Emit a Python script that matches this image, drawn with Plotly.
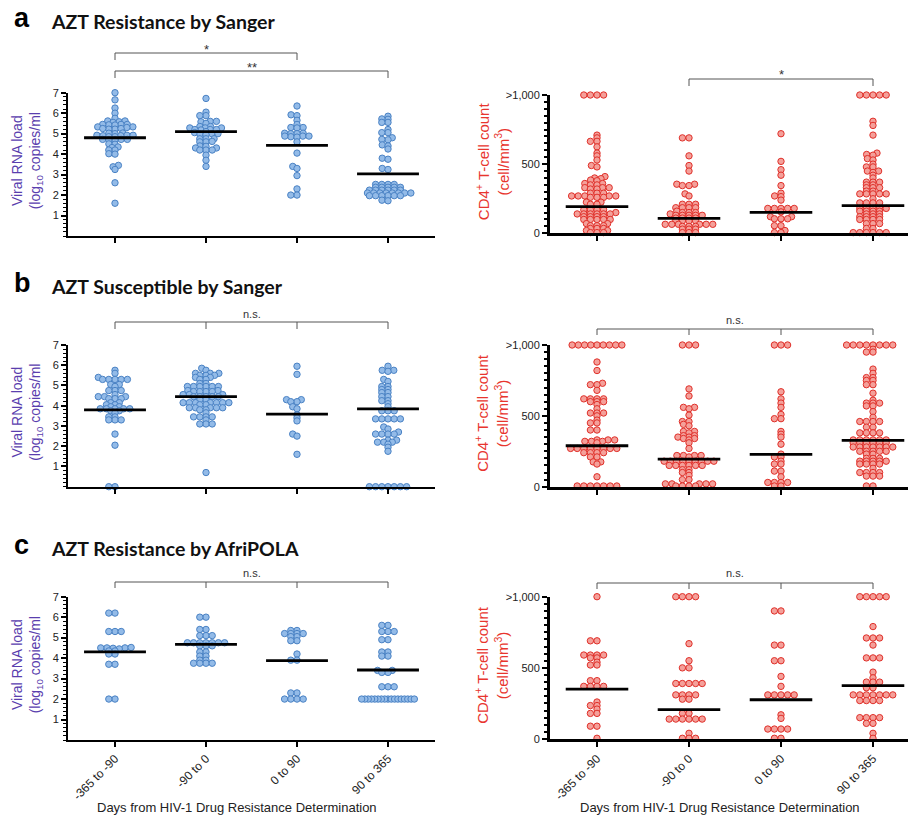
import numpy as np
import plotly.graph_objects as go

# ---------------- data ----------------
CATEGORIES = ["-365 to -90", "-90 to 0", "0 to 90", "90 to 365"]

def rep(v, n):
    return [v] * n

# Panel a, viral load (log10 copies/ml)
A_VL_1 = [7.0, 6.65, 6.25, 6.0, 5.75, 5.62, 5.58, 5.55, 5.62, 5.45, 5.45, 5.43, 5.42, 5.45, 5.33, 5.33, 5.3,
          5.22, 5.25, 5.22, 5.25, 5.03, 5.0, 5.02, 4.92, 4.92, 4.9, 4.9, 4.92, 4.85, 4.85, 4.72, 4.72, 4.7,
          4.7, 4.72, 4.5, 4.48, 4.35, 4.32, 4.2, 4.2, 4.02, 4.0, 3.45, 3.38, 3.25, 2.6, 1.6]
A_VL_2 = [6.72, 6.05, 5.88, 5.88, 5.6, 5.6, 5.58, 5.5, 5.35, 5.35, 5.28, 5.28, 5.28, 5.2, 5.2, 5.18, 5.2,
          5.1, 5.05, 5.0, 5.0, 4.98, 4.95, 4.75, 4.75, 4.75, 4.6, 4.6, 4.62, 4.4, 4.38, 4.3, 4.3, 4.2, 4.2,
          4.2, 3.95, 3.7, 3.4]
A_VL_3 = [6.35, 5.92, 5.88, 5.65, 5.45, 5.3, 5.3, 5.28, 5.02, 5.0, 5.0, 5.02, 4.88, 4.88, 4.85, 4.88, 4.83,
          4.6, 4.05, 3.4, 3.3, 2.95, 2.3, 2.0, 2.0]
A_VL_4 = ([5.85, 5.7, 5.72, 5.55, 5.55, 5.2, 5.05, 5.05, 4.8, 4.7, 4.72, 4.45, 4.4, 4.25, 3.8, 3.75, 3.3, 3.25]
          + rep(2.52, 4) + rep(2.38, 5) + rep(2.24, 6) + rep(2.1, 8) + rep(1.97, 6) + [1.75, 1.72])
A_VL_MED = [4.8, 5.1, 4.43, 3.03]

# Panel a, CD4 count (cells/mm3; >1,000 shown at 1,000)
A_CD4_1 = (rep(1000, 4) + [710, 690, 665, 665, 625, 580, 560, 530, 490, 480, 410, 400, 395, 385, 380, 360, 360,
           350, 350, 330, 330, 330, 320, 320, 290, 290, 290] + rep(270, 5) + rep(260, 3) + [225, 225, 210, 210]
           + rep(170, 4) + [150] + rep(140, 6) + rep(120, 4) + rep(100, 5) + rep(70, 2) + rep(55, 3)
           + rep(35, 3) + rep(20, 2) + rep(5, 3))
A_CD4_2 = ([690, 690, 560, 490, 450, 355, 355, 345, 345, 285, 270, 210, 210, 210] + rep(185, 4) + [160]
           + rep(150, 3) + [140] + rep(130, 5) + rep(110, 4) + rep(90, 4) + rep(65, 6) + rep(50, 3)
           + rep(30, 3) + rep(5, 3))
A_CD4_3 = [1010, 720, 520, 460, 420, 345, 290, 270, 265, 240, 180, 180, 180, 180, 180, 155, 120, 120, 105,
           105, 105, 55, 55, 20, 5, 5]
A_CD4_4 = (rep(1000, 5) + [810, 780, 710, 580, 570, 565, 540, 530, 500, 480, 480, 450, 450, 440, 420, 400]
           + rep(370, 3) + rep(350, 2) + rep(330, 3) + rep(305, 2) + rep(285, 5) + [250] + rep(220, 4)
           + rep(180, 5) + rep(160, 4) + rep(140, 3) + rep(120, 4) + rep(100, 4) + rep(70, 3) + rep(35, 2)
           + rep(5, 6))
A_CD4_MED = [193, 108, 152, 200]

# Panel b, viral load
B_VL_1 = [5.75, 5.6, 5.4, 5.3, 5.3, 5.3, 5.3, 5.3, 5.05, 5.05, 4.95, 4.75, 4.75, 4.75, 4.55, 4.45, 4.45,
          4.45, 4.35, 4.35, 4.35, 4.15, 4.15, 4.05, 4.05, 3.95, 3.95, 3.85, 3.85, 3.85, 3.85, 3.85, 3.75,
          3.75, 3.65, 3.45, 3.45, 3.3, 3.3, 3.3, 2.6, 2.05, 0.0, 0.0]
B_VL_2 = ([5.85, 5.75, 5.6, 5.6, 5.6, 5.5, 5.5, 5.5, 5.4, 5.4, 5.3, 5.3, 5.1, 5.1] + rep(4.95, 6)
          + [4.75, 4.75] + rep(4.7, 4) + rep(4.55, 3) + rep(4.45, 5) + [4.3, 4.3] + rep(4.15, 7)
          + [4.05, 4.05] + rep(3.9, 5) + [3.8, 3.8, 3.65] + rep(3.45, 4) + [3.3] + rep(3.1, 3) + [0.7])
B_VL_3 = [5.95, 5.55, 4.3, 4.3, 4.2, 4.2, 3.95, 3.85, 3.55, 3.4, 3.25, 2.6, 2.5, 1.6]
B_VL_4 = ([5.95, 5.75, 5.75, 5.7, 5.3, 5.2, 4.95, 4.95, 4.8, 4.8, 4.65, 4.65, 4.45, 4.45, 4.25, 4.25, 4.1,
          3.95, 3.75, 3.75, 3.75] + rep(3.35, 5) + [2.95, 2.85, 2.7] + rep(2.6, 4) + [2.3, 2.3]
          + rep(2.2, 3) + [2.1, 1.95, 1.75] + rep(0.0, 7))
B_VL_MED = [3.8, 4.45, 3.59, 3.84]

# Panel b, CD4 count
B_CD4_1 = (rep(1000, 9) + [880, 820, 730, 720, 720, 680] + rep(620, 4) + rep(600, 3) + [580, 550]
           + rep(520, 3) + [500, 470, 450, 450, 400, 400] + rep(330, 3) + rep(320, 3) + [310]
           + rep(270, 8) + rep(240, 4) + [210, 210, 175, 175, 160, 70] + rep(5, 7))
B_CD4_2 = (rep(1000, 3) + [690, 640, 560, 560, 550, 505, 460, 460, 440, 430, 390, 390, 380, 360, 360, 350,
           350, 340, 340, 330, 310, 270] + rep(220, 4) + [210] + rep(180, 9) + rep(150, 6) + [120, 120, 100,
           100, 80, 50, 50] + rep(20, 5) + rep(5, 4))
B_CD4_3 = (rep(1000, 3) + [670, 620, 590, 560, 510, 480, 480, 390, 370, 350, 300, 230, 210, 210, 180, 160,
           160, 110, 110, 70] + rep(30, 4) + [5, 5])
B_CD4_4 = (rep(1000, 8) + [970, 950, 950, 830, 800, 770, 770, 750, 750, 720, 720, 660, 610] + rep(590, 3)
           + [570, 570, 530, 490] + rep(460, 4) + [420, 420] + rep(380, 4) + rep(330, 6) + rep(310, 6)
           + rep(280, 7) + rep(250, 5) + [230, 230] + rep(200, 3) + rep(180, 5) + rep(160, 4) + [130]
           + rep(100, 4) + rep(75, 3) + [5, 5])
B_CD4_MED = [289, 195, 228, 327]

# Panel c, viral load
C_VL_1 = [6.2, 6.2, 5.3, 5.3, 5.3, 4.5, 4.5, 4.48, 4.45, 4.5, 4.52, 4.35, 4.35, 4.2, 4.2, 3.7, 3.7, 2.0, 2.0]
C_VL_2 = ([6.0, 6.0, 5.4, 5.4, 5.1, 5.1, 5.1] + rep(4.75, 7) + rep(4.6, 3) + [4.3, 4.3, 4.1, 4.1, 3.9, 3.9]
          + rep(3.75, 4))
C_VL_3 = [5.35, 5.35, 5.2, 5.2, 5.2, 5.2, 5.05, 5.05, 4.85, 4.85, 4.2, 3.9, 3.9, 2.3, 2.3, 2.0, 2.0, 2.0, 2.0]
C_VL_4 = ([5.6, 5.6, 5.3, 5.3, 5.3, 4.9, 4.9, 4.3, 4.3, 4.1, 4.1, 3.4, 3.4, 3.3, 3.3, 2.6, 2.6, 2.6]
          + rep(2.0, 17))
C_VL_MED = [4.3, 4.67, 3.88, 3.42]

# Panel c, CD4 count
C_CD4_1 = ([1000, 690, 690] + rep(590, 4) + [570, 570, 540, 520, 520, 410, 410] + rep(370, 4)
           + [260, 235, 235, 210, 180, 180, 90, 90, 5])
C_CD4_2 = (rep(1000, 4) + [670, 550, 500, 500] + rep(390, 5) + rep(310, 4) + [280, 280, 180, 180]
           + rep(140, 6) + [40] + rep(5, 3))
C_CD4_3 = [900, 900, 660, 660, 550, 550, 440, 370] + rep(310, 5) + [170, 145] + rep(70, 4) + [5, 5]
C_CD4_4 = (rep(1000, 5) + [790] + rep(710, 3) + [660] + rep(570, 3) + [470, 430] + rep(400, 3) + [360, 360]
           + rep(310, 7) + rep(270, 4) + rep(150, 4) + [110, 110, 40, 5])
C_CD4_MED = [351, 206, 276, 375]

PANEL_TITLES = ["AZT Resistance by Sanger", "AZT Susceptible by Sanger", "AZT Resistance by AfriPOLA"]
PANEL_LETTERS = ["a", "b", "c"]

# ---------------- layout helpers ----------------
W, H = 909, 816
def fx(p): return p / W
def fy(p): return 1 - p / H

VL_COLOR = "#5a3eae"
CD4_COLOR = "#e8352e"
BLUE_FILL, BLUE_LINE = "#93bbe8", "#4a82c4"
RED_FILL, RED_LINE = "#f4a09a", "#e0302a"
FONT = "Liberation Sans, Arial, sans-serif"

LEFT = dict(x0=68, x1=435, c0=115, step=91)
RIGHT = dict(x0=550, x1=908, c0=597, step=92)
ROW_Y = [((92.7, 236.0), (95.0, 233.3)), ((345.0, 486.7), (345.0, 486.7)), ((596.7, 740.0), (596.7, 739.0))]

panels = [
    ([A_VL_1, A_VL_2, A_VL_3, A_VL_4], A_VL_MED, "vl"),
    ([A_CD4_1, A_CD4_2, A_CD4_3, A_CD4_4], A_CD4_MED, "cd4"),
    ([B_VL_1, B_VL_2, B_VL_3, B_VL_4], B_VL_MED, "vl"),
    ([B_CD4_1, B_CD4_2, B_CD4_3, B_CD4_4], B_CD4_MED, "cd4"),
    ([C_VL_1, C_VL_2, C_VL_3, C_VL_4], C_VL_MED, "vl"),
    ([C_CD4_1, C_CD4_2, C_CD4_3, C_CD4_4], C_CD4_MED, "cd4"),
]

def swarm(vals, ppu_y, ppu_x, dh, dv, wmax=56.0):
    """Scatter-dot-plot layout: points collide inside an ellipse dh (horizontal) x dv (vertical) px;
    long runs of identical values are compressed so that a row never exceeds wmax px."""
    vals = np.asarray(vals, float)
    uniq, counts = np.unique(vals, return_counts=True)
    nsame = dict(zip(uniq.tolist(), counts.tolist()))
    order = np.argsort(vals, kind="stable")
    placed = []
    offs = np.zeros(len(vals))
    for idx in order:
        y = vals[idx] * ppu_y
        h = min(dh, wmax / nsame[vals[idx]])
        near = [(x0, y0) for (x0, y0) in placed if abs(y0 - y) < dv]
        cands = [0.0]
        for x0, y0 in near:
            dx = h * np.sqrt(max(1 - ((y - y0) / dv) ** 2, 0))
            cands += [x0 + dx, x0 - dx]
        cands.sort(key=lambda c: (abs(c), c))
        chosen = cands[-1]
        for c in cands:
            if all(((c - x0) / h) ** 2 + ((y - y0) / dv) ** 2 >= 1 - 1e-6 for x0, y0 in near):
                chosen = c
                break
        placed.append((chosen, y))
        offs[idx] = chosen / ppu_x
    return offs

fig = go.Figure()
layout = dict(width=W, height=H, margin=dict(l=0, r=0, t=0, b=0, pad=0, autoexpand=False), showlegend=False,
              plot_bgcolor="white", paper_bgcolor="white", font=dict(family=FONT, color="#222"))
annotations, shapes = [], []

def ann(**kw):
    base = dict(showarrow=False, xanchor="center", yanchor="middle", xref="paper", yref="paper")
    base.update(kw)
    annotations.append(base)

for k, (groups, meds, kind) in enumerate(panels, start=1):
    row, col = (k - 1) // 2, (k - 1) % 2
    g = LEFT if col == 0 else RIGHT
    ytop, ybot = ROW_Y[row][col]
    xr = [(g["x0"] - g["c0"]) / g["step"], (g["x1"] - g["c0"]) / g["step"]]
    ymax = 7.0 if kind == "vl" else 1000.0
    ppu_y = (ybot - ytop) / ymax
    xa = "x" if k == 1 else f"x{k}"
    ya = "y" if k == 1 else f"y{k}"
    fill, line = (BLUE_FILL, BLUE_LINE) if kind == "vl" else (RED_FILL, RED_LINE)
    dh, dv = (6.2, 2.8) if kind == "vl" else (6.6, 2.6)
    for i, vals in enumerate(groups):
        offs = swarm(vals, ppu_y, g["step"], dh, dv)
        fig.add_trace(go.Scatter(x=i + offs, y=vals, mode="markers", xaxis=xa, yaxis=ya,
                                 cliponaxis=False, hoverinfo="y",
                                 marker=dict(size=6.4, color=fill, line=dict(color=line, width=1))))
    for i, m in enumerate(meds):
        fig.add_trace(go.Scatter(x=[i - 0.34, i + 0.34], y=[m, m], mode="lines", xaxis=xa, yaxis=ya,
                                 cliponaxis=False, hoverinfo="skip", line=dict(color="black", width=2.8)))
    xkey = "xaxis" if k == 1 else f"xaxis{k}"
    ykey = "yaxis" if k == 1 else f"yaxis{k}"
    layout[xkey] = dict(domain=[fx(g["x0"]), fx(g["x1"])], range=xr, anchor=ya, automargin=False,
                        tickvals=[0, 1, 2, 3], ticktext=CATEGORIES, showticklabels=(row == 2),
                        tickangle=-45, tickfont=dict(size=12, family=FONT, color="#222"),
                        ticks="outside", ticklen=5, tickwidth=2, tickcolor="black",
                        showline=True, linecolor="black", linewidth=2 if kind == "vl" else 3,
                        showgrid=False, zeroline=False, fixedrange=True)
    if kind == "vl":
        ydict = dict(range=[0, 7], tickvals=[1, 2, 3, 4, 5, 6, 7], ticktext=[str(v) for v in range(1, 8)],
                     linewidth=2, minor=dict(tick0=0, dtick=0.2, ticks="outside", ticklen=3, tickwidth=1,
                                            tickcolor="black"))
    else:
        ydict = dict(range=[0, 1000], tickvals=[0, 500, 1000], ticktext=["0", "500", ">1,000"],
                     linewidth=3, minor=dict(tick0=0, dtick=50, ticks="outside", ticklen=3, tickwidth=2,
                                            tickcolor="black"))
    ydict.update(domain=[fy(ybot), fy(ytop)], anchor=xa, ticks="outside", ticklen=5, tickwidth=2,
                 tickcolor="black", showline=True, linecolor="black", showgrid=False, zeroline=False,
                 automargin=False, tickfont=dict(size=11, family=FONT, color="#222"), fixedrange=True)
    layout[ykey] = ydict

    # y-axis titles
    yc = fy((ytop + ybot) / 2 - 3)
    if kind == "vl":
        ann(text="Viral RNA load<br>(log<sub>10</sub> copies/ml", textangle=-90, x=fx(27), y=yc,
            font=dict(size=14, color=VL_COLOR, family=FONT))
    else:
        ann(text="CD4<sup>+</sup> T-cell count<br>(cell/mm<sup>3</sup>)", textangle=-90, x=fx(492), y=yc,
            font=dict(size=15, color=CD4_COLOR, family=FONT))
    if row == 2:
        ann(text="Days from HIV-1 Drug Resistance Determination", x=fx(237 if col == 0 else 720), y=fy(807),
            font=dict(size=13, color="#222", family=FONT))

# panel letters and titles
for ly, letter, title in zip([20, 285, 547], PANEL_LETTERS, PANEL_TITLES):
    ann(text=f"<b>{letter}</b>", x=fx(12), y=fy(ly - 2), xanchor="left",
        font=dict(size=27, color="black", family=FONT))
    ann(text=f"<b>{title}</b>", x=fx(49), y=fy(ly + 1), xanchor="left",
        font=dict(size=19.5, color="#111", family="Lato"))

# significance brackets: (panel, categories, y_line, y_drop, label, y_label)
BRACKETS = [
    (1, [0, 2], 53, 60, "*", 47),
    (1, [0, 3], 71, 78, "**", 65),
    (2, [1, 3], 79, 86, "*", 72),
    (3, [0, 1, 2, 3], 322, 329, "n.s.", 314),
    (4, [0, 1, 2, 3], 329, 335, "n.s.", 320),
    (5, [0, 1, 2, 3], 582, 588, "n.s.", 573),
    (6, [0, 1, 2, 3], 583, 589, "n.s.", 573),
]
for k, cats, yl, yd, lab, ylab in BRACKETS:
    xa = "x" if k == 1 else f"x{k}"
    shapes.append(dict(type="line", xref=xa, yref="paper", x0=cats[0], x1=cats[-1], y0=fy(yl), y1=fy(yl),
                       line=dict(color="#555", width=1)))
    for c in cats:
        shapes.append(dict(type="line", xref=xa, yref="paper", x0=c, x1=c, y0=fy(yl), y1=fy(yd),
                           line=dict(color="#555", width=1)))
    star = lab.startswith("*")
    ann(text=lab, xref=xa, x=(cats[0] + cats[-1]) / 2, y=fy(ylab + (2 if star else 0)),
        font=dict(size=13 if star else 11, color="#333", family=FONT))

layout["annotations"] = annotations
layout["shapes"] = shapes
fig.update_layout(**layout)
fig.write_html("out.html", config={"displayModeBar": False},
               post_script="document.body.style.margin='0';document.body.style.overflow='hidden';")
